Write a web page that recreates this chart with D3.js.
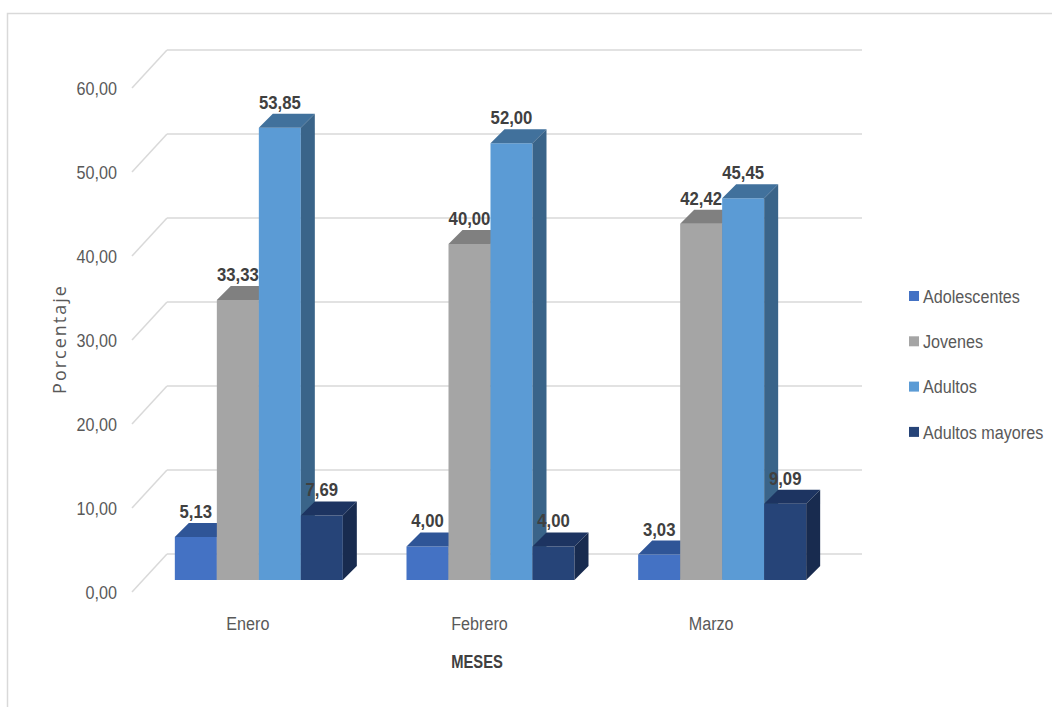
<!DOCTYPE html>
<html>
<head>
<meta charset="utf-8">
<script src="https://cdn.jsdelivr.net/npm/d3@7"></script>
<style>
  html, body { margin: 0; padding: 0; background: #ffffff; }
  svg { display: block; }
  .narrow { font-family: "Liberation Sans", Arial, sans-serif; }
</style>
</head>
<body>
<svg id="chart" width="1052" height="707"></svg>
<script>
// Porcentaje por grupo de edad y mes
const months = ["Enero", "Febrero", "Marzo"];
const groups = ["Adolescentes", "Jovenes", "Adultos", "Adultos mayores"];
const adolescentes = [5.13, 4.00, 3.03];
const jovenes = [33.33, 40.00, 42.42];
const adultos = [53.85, 52.00, 45.45];
const adultosMayores = [7.69, 4.00, 9.09];
const yTicks = [0, 10, 20, 30, 40, 50, 60];

const seriesValues = [adolescentes, jovenes, adultos, adultosMayores];

// face colours: front, top, side
const palette = [
  { front: "#4472C4", top: "#2F5597", side: "#2A4C87" },
  { front: "#A5A5A5", top: "#808080", side: "#737373" },
  { front: "#5B9BD5", top: "#41719C", side: "#3A6489" },
  { front: "#264478", top: "#1D3461", side: "#182B4F" }
];

const fmt = v => v.toFixed(2).replace(".", ",");

// place a text at (px, py) and squeeze it horizontally (narrow face look)
function placeNarrow(sel, px, py, k = 0.85) {
  sel.attr("x", 0).attr("y", 0)
    .attr("transform", (d, i) => `translate(${px(d, i)},${py(d, i)}) scale(${k},1)`);
}

const svg = d3.select("#chart");

// chart frame
svg.append("rect")
  .attr("x", 7.5).attr("y", 13.5)
  .attr("width", 1060).attr("height", 710)
  .attr("fill", "none").attr("stroke", "#D9D9D9").attr("stroke-width", 1.5);

// oblique projection: bars' front plane, wall depth offsets
const wallOff = { dx: 24, dy: -26 };   // back wall relative to bar front plane
const edgeOff = { dx: -11, dy: 12 };   // front edge of the floor/side wall
const barOff = { dx: 14, dy: -14 };    // depth of each bar

const x = d3.scaleBand().domain(months).range([143, 838]);
const y = d3.scaleLinear().domain([0, 60]).range([580, 76]);
const barW = 42;
const xInner = d3.scaleBand().domain(groups)
  .range([0, barW * groups.length]);

const plotRight = 838;

// gridlines on back wall and side wall
const grid = svg.append("g");
yTicks.forEach(t => {
  const yb = y(t) + wallOff.dy;
  grid.append("line")
    .attr("x1", x.range()[0] + wallOff.dx).attr("x2", plotRight + wallOff.dx)
    .attr("y1", yb).attr("y2", yb)
    .attr("stroke", "#D9D9D9").attr("stroke-width", 1.5);
  grid.append("line")
    .attr("x1", x.range()[0] + wallOff.dx).attr("y1", yb)
    .attr("x2", x.range()[0] + edgeOff.dx).attr("y2", y(t) + edgeOff.dy)
    .attr("stroke", "#D9D9D9").attr("stroke-width", 1.5);
});

// y tick labels
svg.append("g").selectAll("text").data(yTicks).join("text")
  .attr("class", "narrow")
  .attr("dy", "0.35em")
  .attr("text-anchor", "end")
  .attr("font-size", 19)
  .attr("fill", "#595959")
  .text(fmt)
  .call(placeNarrow, () => 117, d => y(d) + edgeOff.dy);

// bars, drawn left to right so nearer faces overlap
const bars = [];
months.forEach((m, i) => {
  const groupLeft = x(m) + (x.bandwidth() - barW * groups.length) / 2;
  groups.forEach((g, j) => {
    bars.push({
      month: m, group: g, si: j,
      v: seriesValues[j][i],
      x0: groupLeft + xInner(g)
    });
  });
});

const barG = svg.append("g");
bars.forEach(b => {
  const c = palette[b.si];
  const x0 = b.x0, x1 = b.x0 + barW;
  const yt = y(b.v), yb = y(0);
  const dx = barOff.dx, dy = barOff.dy;
  const g = barG.append("g");
  // front
  g.append("path")
    .attr("d", `M${x0},${yb}L${x0},${yt}L${x1},${yt}L${x1},${yb}Z`)
    .attr("fill", c.front);
  // top
  g.append("path")
    .attr("d", `M${x0},${yt}L${x0 + dx},${yt + dy}L${x1 + dx},${yt + dy}L${x1},${yt}Z`)
    .attr("fill", c.top);
  // side
  g.append("path")
    .attr("d", `M${x1},${yt}L${x1 + dx},${yt + dy}L${x1 + dx},${yb + dy}L${x1},${yb}Z`)
    .attr("fill", c.side);
});

// value labels
svg.append("g").selectAll("text").data(bars).join("text")
  .attr("class", "narrow")
  .attr("text-anchor", "middle")
  .attr("font-size", 19)
  .attr("font-weight", "bold")
  .attr("fill", "#404040")
  .text(d => fmt(d.v))
  .call(placeNarrow, d => d.x0 + barW / 2, d => y(d.v) + barOff.dy - 5, 0.88);

// category labels
svg.append("g").selectAll("text").data(months).join("text")
  .attr("class", "narrow")
  .attr("dy", "0.35em")
  .attr("text-anchor", "middle")
  .attr("font-size", 19)
  .attr("fill", "#595959")
  .text(d => d)
  .call(placeNarrow, d => x(d) + x.bandwidth() / 2 + edgeOff.dx, () => 623);

// axis titles
svg.append("text")
  .datum("MESES")
  .attr("class", "narrow")
  .attr("dy", "0.35em")
  .attr("text-anchor", "middle")
  .attr("font-size", 18)
  .attr("font-weight", "bold")
  .attr("fill", "#404040")
  .text(d => d)
  .call(placeNarrow, () => 477, () => 662, 0.82);

svg.append("text")
  .attr("transform", "translate(60,339) rotate(-90)")
  .attr("dy", "0.35em")
  .attr("text-anchor", "middle")
  .attr("font-family", "'Open Sans', sans-serif")
  .attr("font-size", 18)
  .attr("letter-spacing", "2px")
  .attr("fill", "#595959")
  .text("Porcentaje");

// legend
const legend = svg.append("g").attr("transform", "translate(909,296)");
const rows = legend.selectAll("g").data(groups).join("g")
  .attr("transform", (d, i) => `translate(0,${i * 45.3})`);
rows.append("rect")
  .attr("x", 0).attr("y", -5).attr("width", 10).attr("height", 10)
  .attr("fill", (d, i) => palette[i].front);
rows.append("text")
  .attr("class", "narrow")
  .attr("dy", "0.35em")
  .attr("font-size", 19)
  .attr("fill", "#595959")
  .text(d => d)
  .call(placeNarrow, () => 14, () => 0);
</script>
</body>
</html>
